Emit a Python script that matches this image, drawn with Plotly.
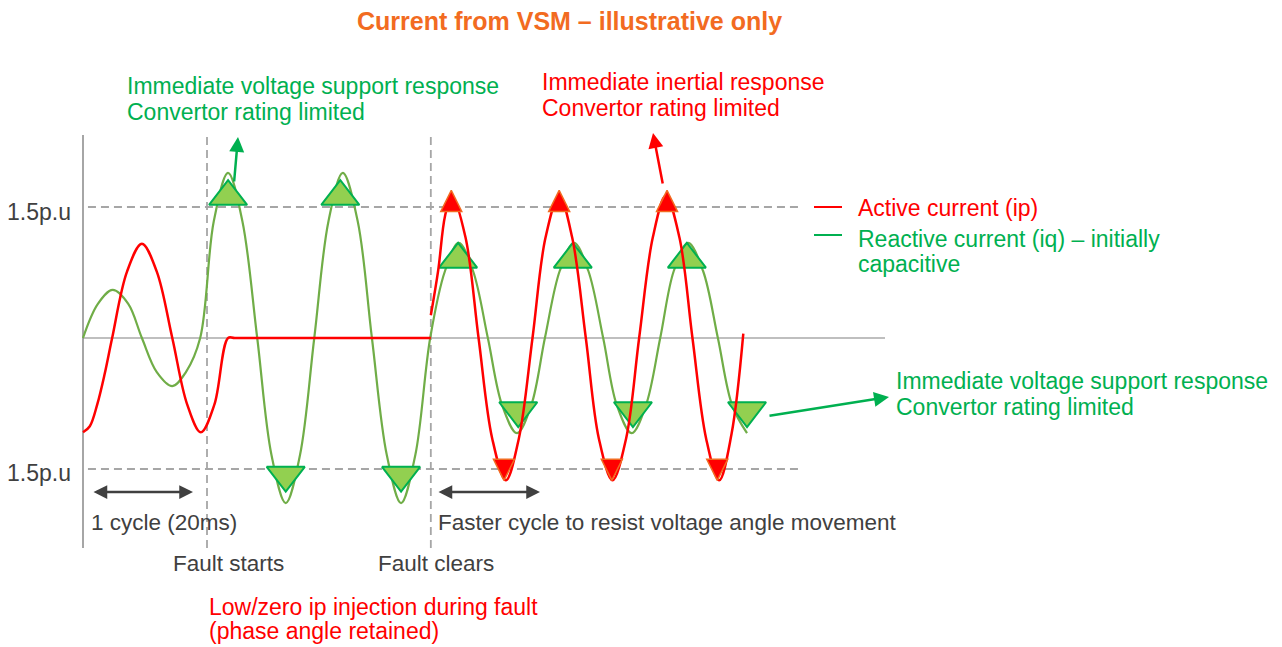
import plotly.graph_objects as go

# --- data (time in ms, current in p.u.) ---
green_t = [0, 2.4, 4.8, 7.3, 9.5, 11.9, 14.4, 16.6, 18.9,
           21.1, 23.4, 25.7, 28.1, 30.4, 32.7, 35.0, 37.3, 39.6, 41.9, 44.3, 46.6, 49.0, 51.3, 53.6, 56.0,
           58.4, 60.6, 62.9, 65.3, 67.6, 70.0, 72.3, 74.5, 76.9, 79.2, 81.5, 83.9, 86.1, 88.5, 90.8,
           93.1, 95.3, 97.6, 100.0, 102.4, 104.7, 107.1]
green_i = [0, 0.39, 0.55, 0.39, 0, -0.39, -0.55, -0.39, 0,
           1.34, 1.89, 1.34, 0, -1.34, -1.89, -1.34, 0, 1.34, 1.89, 1.34, 0, -1.34, -1.89, -1.34, 0,
           0.77, 1.09, 0.77, 0, -0.77, -1.09, -0.77, 0, 0.77, 1.09, 0.77, 0, -0.77, -1.09, -0.77,
           0, 0.77, 1.09, 0.77, 0, -0.77, -1.09]

red_pre_t = [0, 1.1, 2.3, 3.5, 4.7, 7.1, 9.5, 11.9, 14.4, 16.8, 19.0, 21.2, 23.4, 24.5, 40.0, 56.1]
red_pre_i = [-1.08, -1.01, -0.76, -0.41, 0, 0.76, 1.08, 0.76, 0, -0.76, -1.08, -0.76, 0, 0, 0, 0]

red_post_t = [56.1, 57.3, 58.4, 59.5, 61.7, 63.8, 66.0, 68.2, 70.3, 72.5, 74.6, 76.8, 78.9, 81.1,
              83.2, 85.4, 87.6, 89.7, 91.9, 94.0, 96.2, 98.3, 100.5, 102.6, 104.6, 106.5]
red_post_i = [0.26, 0.78, 1.40, 1.63, 1.15, 0, -1.15, -1.63, -1.15, 0, 1.15, 1.63, 1.15, 0,
              -1.15, -1.63, -1.15, 0, 1.15, 1.63, 1.15, 0, -1.15, -1.63, -1.10, 0.05]

# rating-limit markers
green_up_t = [23.4, 41.5, 60.5, 79.0, 97.4]
green_up_i = [1.62, 1.62, 0.90, 0.90, 0.90]
green_dn_t = [32.7, 51.3, 70.2, 88.7, 107.1]
green_dn_i = [-1.57, -1.57, -0.83, -0.83, -0.83]
red_up_t = [59.4, 76.8, 94.2]
red_up_i = [1.69, 1.69, 1.69]
red_dn_t = [67.9, 85.3, 102.3]
red_dn_i = [-1.63, -1.63, -1.63]

limit_pu = 1.5
fault_start_ms = 20.0
fault_clear_ms = 56.1
ytick_labels = ["1.5p.u", "1.5p.u"]

# --- page geometry ---
W, H = 1282, 647
X0, Y0 = 83, 338          # pixel position of (0 ms, 0 p.u.)
PX_MS = 6.2
PX_PU = 131 / 1.5

GREEN_LINE = "#70AD47"
GREEN_TXT = "#00B050"
GREEN_FILL = "#92D050"
RED = "#FF0000"
ORANGE = "#F26B21"
GREY = "#A6A6A6"
DARK = "#404040"
FONT = "Liberation Sans, Arial, sans-serif"


def px(x):
    return x / W


def py(y):
    return 1 - y / H


def label(text, x, y, color, size=23, anchor="left", bold=False):
    return dict(x=px(x), y=py(y), xref="paper", yref="paper", xanchor=anchor, yanchor="middle",
                text=f"<b>{text}</b>" if bold else text, showarrow=False,
                font=dict(family=FONT, size=size, color=color))


def arrow(x0, y0, x1, y1, color, width=2.5, size=1.2, both=False):
    return dict(x=px(x1), y=py(y1), xref="paper", yref="paper", ax=x0 - x1, ay=y0 - y1,
                axref="pixel", ayref="pixel", text="", showarrow=True, arrowhead=2,
                arrowsize=size, arrowwidth=width, arrowcolor=color, standoff=0, startstandoff=0,
                arrowside="end+start" if both else "end", startarrowhead=2, startarrowsize=size)


fig = go.Figure()

fig.add_trace(go.Scatter(x=green_t, y=green_i, mode="lines",
                         line=dict(color=GREEN_LINE, width=2.2, shape="spline"), hoverinfo="skip"))
fig.add_trace(go.Scatter(x=green_up_t, y=green_up_i, mode="markers",
                         marker=dict(symbol="triangle-up", size=33, color=GREEN_FILL,
                                     line=dict(color=GREEN_TXT, width=2)), hoverinfo="skip"))
fig.add_trace(go.Scatter(x=green_dn_t, y=green_dn_i, mode="markers",
                         marker=dict(symbol="triangle-down", size=33, color=GREEN_FILL,
                                     line=dict(color=GREEN_TXT, width=2)), hoverinfo="skip"))
fig.add_trace(go.Scatter(x=red_pre_t + [None] + red_post_t, y=red_pre_i + [None] + red_post_i,
                         mode="lines", connectgaps=False,
                         line=dict(color=RED, width=2.5, shape="spline"), hoverinfo="skip"))
fig.add_trace(go.Scatter(x=red_up_t, y=red_up_i, mode="markers",
                         marker=dict(symbol="arrow-up", size=21, color=RED,
                                     line=dict(color=ORANGE, width=1.5)), hoverinfo="skip"))
fig.add_trace(go.Scatter(x=red_dn_t, y=red_dn_i, mode="markers",
                         marker=dict(symbol="arrow-down", size=21, color=RED,
                                     line=dict(color=ORANGE, width=1.5)), hoverinfo="skip"))

# axes / reference lines
axis_top, axis_bot = (Y0 - 135) / PX_PU, (Y0 - 548) / PX_PU
zero_end = (885 - X0) / PX_MS
limit_end = (800 - X0) / PX_MS
dash = "8px,5px"
shapes = [
    dict(type="line", x0=0, x1=0, y0=axis_bot, y1=axis_top, line=dict(color=GREY, width=2)),
    dict(type="line", x0=0, x1=zero_end, y0=0, y1=0, line=dict(color="#808080", width=1.2)),
    dict(type="line", x0=0.8, x1=limit_end, y0=limit_pu, y1=limit_pu, line=dict(color=GREY, width=1.8, dash=dash)),
    dict(type="line", x0=0.8, x1=limit_end, y0=-limit_pu, y1=-limit_pu, line=dict(color=GREY, width=1.8, dash=dash)),
    dict(type="line", x0=fault_start_ms, x1=fault_start_ms, y0=axis_bot, y1=axis_top,
         line=dict(color=GREY, width=1.8, dash=dash)),
    dict(type="line", x0=fault_clear_ms, x1=fault_clear_ms, y0=axis_bot, y1=axis_top,
         line=dict(color=GREY, width=1.8, dash=dash)),
]
for s in shapes:
    s.update(xref="x", yref="y", layer="below")
    fig.add_shape(**s)

# legend samples
fig.add_shape(type="line", xref="paper", yref="paper", x0=px(814), x1=px(842), y0=py(207), y1=py(207),
              line=dict(color=RED, width=2))
fig.add_shape(type="line", xref="paper", yref="paper", x0=px(814), x1=px(842), y0=py(235), y1=py(235),
              line=dict(color=GREEN_TXT, width=2))

annotations = [
    label("Current from VSM – illustrative only", 569, 21, ORANGE, size=25, anchor="center", bold=True),
    label("Immediate voltage support response", 125, 86, GREEN_TXT),
    label("Convertor rating limited", 125, 112, GREEN_TXT),
    label("Immediate inertial response", 540, 82, RED),
    label("Convertor rating limited", 540, 108, RED),
    label("Active current (ip)", 856, 208, RED),
    label("Reactive current (iq) – initially", 856, 239, GREEN_TXT),
    label("capacitive", 856, 264, GREEN_TXT),
    label("Immediate voltage support response", 894, 381, GREEN_TXT),
    label("Convertor rating limited", 894, 407, GREEN_TXT),
    label(ytick_labels[0], 73, Y0 - limit_pu * PX_PU + 5, DARK, anchor="right"),
    label(ytick_labels[1], 73, Y0 + limit_pu * PX_PU + 4, DARK, anchor="right"),
    label("1 cycle (20ms)", 89, 522, DARK, size=22.5),
    label("Faster cycle to resist voltage angle movement", 436, 522, DARK, size=22.5),
    label("Fault starts", 171, 563, DARK, size=22.5),
    label("Fault clears", 376, 563, DARK, size=22.5),
    label("Low/zero ip injection during fault", 207, 607, RED),
    label("(phase angle retained)", 207, 631, RED),
    arrow(234, 183, 238, 137, GREEN_TXT),
    arrow(663, 185, 653, 133, RED),
    arrow(768, 416, 889, 397, GREEN_TXT),
    arrow(92, 492, 193, 492, DARK, size=1.1, both=True),
    arrow(437, 492, 540, 492, DARK, size=1.1, both=True),
]

fig.update_layout(
    width=W, height=H,
    margin=dict(l=0, r=0, t=0, b=0),
    paper_bgcolor="white", plot_bgcolor="white",
    showlegend=False,
    xaxis=dict(range=[-X0 / PX_MS, (W - X0) / PX_MS], visible=False, fixedrange=True),
    yaxis=dict(range=[(Y0 - H) / PX_PU, Y0 / PX_PU], visible=False, fixedrange=True),
    annotations=annotations,
)

# the page body has a default 8px margin; drop it so the figure sits at the window corner
fig.write_html("out.html", config={"displayModeBar": False},
               post_script="document.body.style.margin='0';")
